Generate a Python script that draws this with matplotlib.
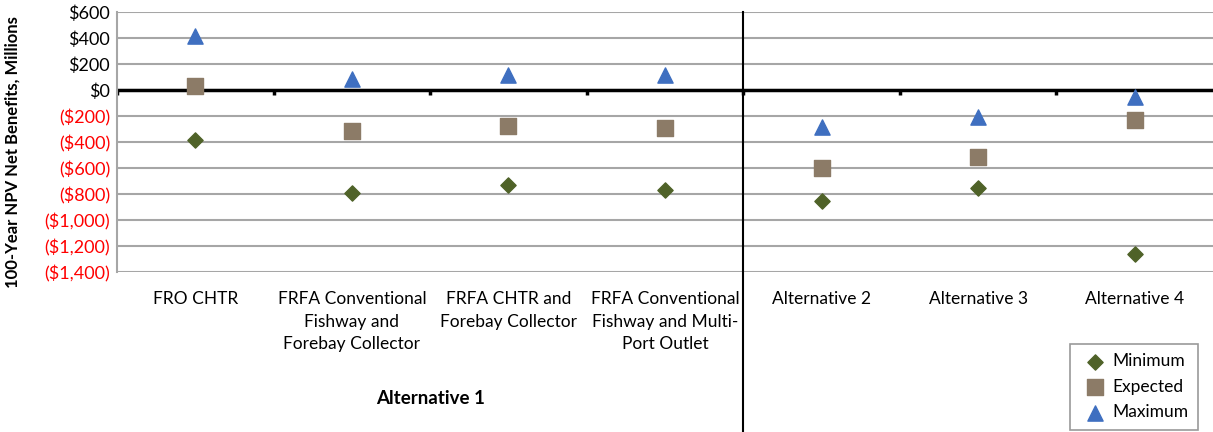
import numpy as np
import matplotlib.pyplot as plt

plt.rcParams['font.family'] = ['Lato', 'DejaVu Sans']

categories = ['FRO CHTR', 'FRFA Conventional\nFishway and\nForebay Collector',
              'FRFA CHTR and\nForebay Collector', 'FRFA Conventional\nFishway and Multi-\nPort Outlet',
              'Alternative 2', 'Alternative 3', 'Alternative 4']
minimum = [-385, -790, -731, -769, -852, -754, -1263]
expected = [31, -315, -277, -292, -597, -513, -231]
maximum = [415, 88, 115, 112, -283, -210, -55]
yticks = [600, 400, 200, 0, -200, -400, -600, -800, -1000, -1200, -1400]


def money(v):
    if v < 0:
        return '(${:,})'.format(-v)
    return '${:,}'.format(v)


fig = plt.figure(figsize=(12.13, 4.32), dpi=100)
ax = fig.add_axes([117 / 1213, 1 - 272 / 432, 1 - 117 / 1213, 260 / 432])

x = np.arange(len(categories))
ax.scatter(x, minimum, marker='D', s=60, color='#4F6228', label='Minimum', zorder=3)
ax.scatter(x, expected, marker='s', s=140, color='#8C7B67', label='Expected', zorder=3)
ax.scatter(x, maximum, marker='^', s=120, color='#3F6FC0', label='Maximum', zorder=3)

ax.set_xlim(-0.5, len(categories) - 0.5)
ax.set_ylim(-1400, 600)
ax.set_yticks(yticks)
ax.set_yticklabels([money(v) for v in yticks], fontsize=13)
for lbl, v in zip(ax.get_yticklabels(), yticks):
    lbl.set_color('#FF0000' if v < 0 else '#000000')
ax.tick_params(axis='y', length=0, pad=5)
ax.grid(axis='y', color='#A6A6A6', linewidth=1.5)
ax.set_axisbelow(True)

ax.set_xticks(x)
ax.set_xticklabels(categories, fontsize=12.5, va='top', linespacing=1.5)
ax.tick_params(axis='x', length=0, pad=14)

for s in ['top', 'right', 'bottom']:
    ax.spines[s].set_visible(False)
ax.spines['left'].set_color('#A6A6A6')
ax.spines['left'].set_linewidth(1.5)

# zero line with category tick marks
ax.axhline(0, color='black', linewidth=2.5, zorder=2)
bounds = np.arange(len(categories) - 1) + 0.5
ax.vlines(bounds, -40, 0, color='black', linewidth=2.5, zorder=2)
ax.vlines([-0.5], -40, 0, color='black', linewidth=2.5, zorder=2)

# divider between alternative 1 and the others
ax.plot([3.5, 3.5], [-0.62, 1.0], transform=ax.get_xaxis_transform(),
        color='black', linewidth=1.5, clip_on=False)

ax.set_ylabel('100-Year NPV Net Benefits, Millions', fontsize=12, fontweight='bold', labelpad=14)
ax.yaxis.set_label_coords(-0.088, 0.46)
ax.text(1.5, -0.485, 'Alternative 1', transform=ax.get_xaxis_transform(),
        ha='center', va='center', fontsize=13.5, fontweight='bold')

leg = fig.legend(loc='lower right', bbox_to_anchor=(1198 / 1213, 2 / 432), fontsize=12.5,
                 frameon=True, fancybox=False, edgecolor='#808080', handletextpad=0.1,
                 handlelength=1.8, borderpad=0.55, labelspacing=0.55, borderaxespad=0)
leg.get_frame().set_linewidth(1.2)

fig.savefig('out.png', dpi=100)
